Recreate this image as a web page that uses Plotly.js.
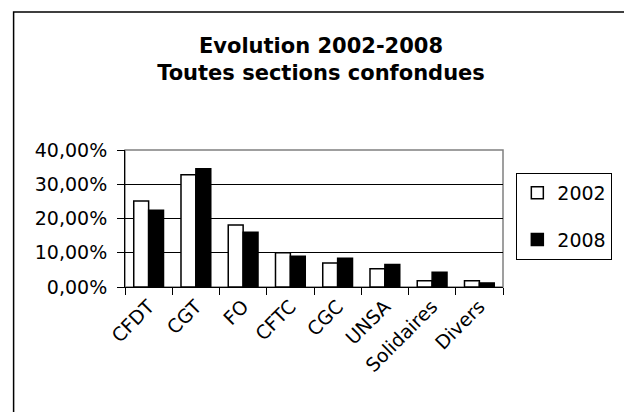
<!DOCTYPE html>
<html>
<head>
<meta charset="utf-8">
<script src="https://cdn.plot.ly/plotly-3.0.1.min.js"></script>
<style>
html,body{margin:0;padding:0;background:#fff;}
#chart{width:624px;height:412px;}
</style>
</head>
<body>
<div id="chart"></div>
<script>
var categories = ["CFDT", "CGT", "FO", "CFTC", "CGC", "UNSA", "Solidaires", "Divers"];
var values2002 = [25.1, 32.8, 18.1, 10.0, 7.0, 5.3, 1.8, 1.8];
var values2008 = [22.4, 34.5, 16.0, 9.0, 8.4, 6.6, 4.3, 1.2];
var seriesNames = ["2002", "2008"];
var yTickVals = [0, 10, 20, 30, 40];
var yTickText = ["0,00%", "10,00%", "20,00%", "30,00%", "40,00%"];

var FONT = "DejaVu Sans, Liberation Sans, Arial, sans-serif";

var traces = [
  {
    type: "bar", name: seriesNames[0], x: categories, y: values2002,
    legendgroup: "a",
    marker: {color: "#ffffff", line: {color: "#000000", width: 1.5}},
    hoverinfo: "x+y"
  },
  {
    type: "bar", name: seriesNames[1], x: categories, y: values2008,
    legendgroup: "b",
    marker: {color: "#000000", line: {color: "#000000", width: 1.5}},
    hoverinfo: "x+y"
  }
];

var L = 125, R = 522, T = 150, B = 287;
var W = R - L, H = B - T;
function px(x){ return (x - L) / W; }
function py(y){ return (B - y) / H; }

var layout = {
  width: 624, height: 412,
  margin: {l: L, r: 624 - R, t: T, b: 412 - B, pad: 0},
  paper_bgcolor: "#ffffff", plot_bgcolor: "#ffffff",
  font: {family: FONT, color: "#000000", size: 19},
  barmode: "group", bargap: 0.37, bargroupgap: 0,
  title: {
    text: "<b>Evolution 2002-2008</b><br><b>Toutes sections confondues</b>",
    font: {family: FONT, size: 21, color: "#000000"},
    x: 321 / 624, xref: "container", xanchor: "center",
    y: 1 - 53 / 412, yref: "container", yanchor: "middle"
  },
  xaxis: {
    type: "category", tickson: "boundaries", ticks: "outside", ticklen: 7,
    tickcolor: "#000000", tickangle: -45, showline: true, linecolor: "#000000",
    linewidth: 1, showgrid: false, tickfont: {family: FONT, size: 19, color: "#000000"},
    fixedrange: true
  },
  yaxis: {
    range: [0, 40], tickvals: yTickVals, ticktext: yTickText,
    ticks: "outside", ticklen: 7, tickcolor: "#000000", ticklabelstandoff: 6,
    showline: true, linecolor: "#000000", linewidth: 1,
    showgrid: true, gridcolor: "#000000", gridwidth: 1, zeroline: false,
    tickfont: {family: FONT, size: 19, color: "#000000"},
    fixedrange: true
  },
  legend: {
    x: px(536), y: py(173), xanchor: "left", yanchor: "top",
    xref: "paper", yref: "paper",
    bordercolor: "#000000", borderwidth: 1, bgcolor: "#ffffff",
    font: {family: FONT, size: 19, color: "#000000"},
    tracegroupgap: 19, itemwidth: 30, traceorder: "grouped"
  },
  shapes: [
    {type: "rect", xref: "paper", yref: "paper", x0: 0, x1: 1, y0: 0, y1: 1,
     line: {color: "#808080", width: 1.5}, layer: "below"},
    {type: "rect", xref: "paper", yref: "paper", x0: px(8), x1: px(700), y0: py(12), y1: py(500),
     line: {color: "#000000", width: 1.5}, fillcolor: "rgba(0,0,0,0)", layer: "above"}
  ],
  showlegend: true
};

Plotly.newPlot("chart", traces, layout, {displayModeBar: false, staticPlot: true});
</script>
</body>
</html>
